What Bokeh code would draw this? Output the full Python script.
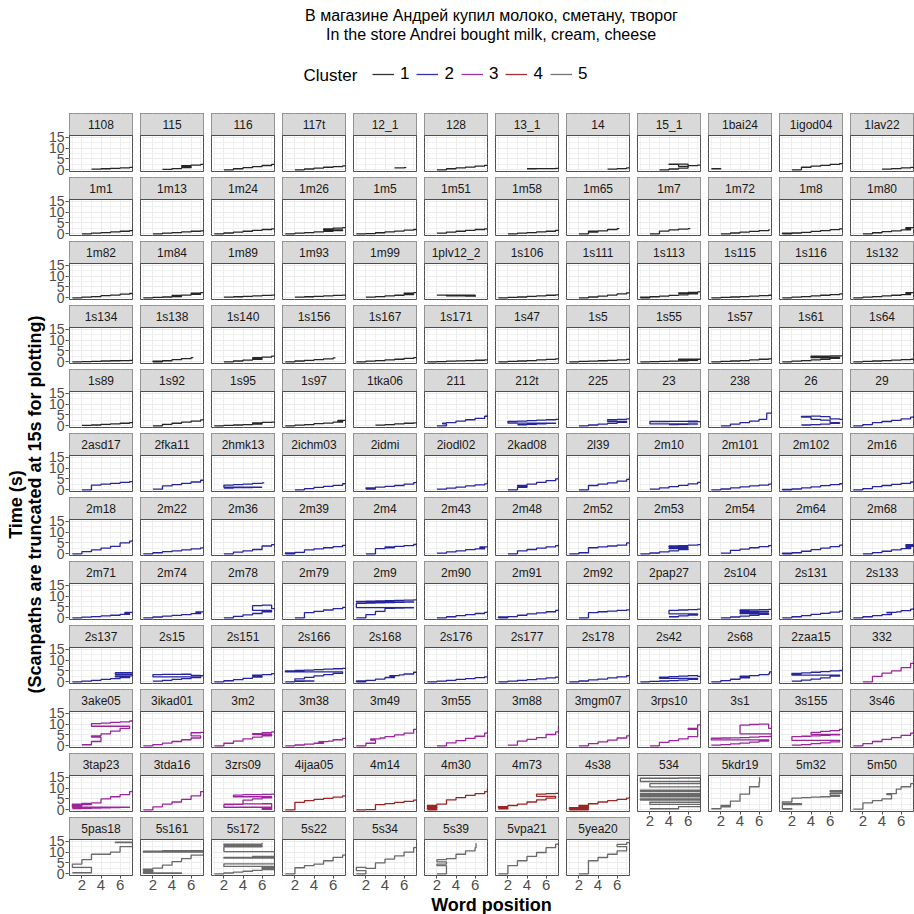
import math
from bokeh.plotting import figure
from bokeh.layouts import column, row
from bokeh.models import Range1d, FixedTicker, Legend, LegendItem
from bokeh.core.properties import value
from bokeh.embed import file_html
from bokeh.resources import INLINE

# ---------------- data ----------------
TITLE_LINES = ["В магазине Андрей купил молоко, сметану, творог",
               "In the store Andrei bought milk, cream, cheese"]
X_LABEL = "Word position"
Y_LABEL_LINES = ["Time (s)", "(Scanpaths are truncated at 15s for plotting)"]
LEGEND_TITLE = "Cluster"
CLUSTER_LABELS = ["1", "2", "3", "4", "5"]
CLUSTER_COLORS = ["#000000", "#00008B", "#8B008B", "#8B0000", "#505050"]
X_TICKS = [2, 4, 6]
X_MINOR = [1, 3, 5, 7]
Y_TICKS = [0, 5, 10, 15]
Y_MINOR = [2.5, 7.5, 12.5]

PANELS = [
    "1108", "115", "116", "117t", "12_1", "128", "13_1", "14", "15_1", "1bai24", "1igod04", "1lav22",
    "1m1", "1m13", "1m24", "1m26", "1m5", "1m51", "1m58", "1m65", "1m7", "1m72", "1m8", "1m80",
    "1m82", "1m84", "1m89", "1m93", "1m99", "1plv12_2", "1s106", "1s111", "1s113", "1s115", "1s116", "1s132",
    "1s134", "1s138", "1s140", "1s156", "1s167", "1s171", "1s47", "1s5", "1s55", "1s57", "1s61", "1s64",
    "1s89", "1s92", "1s95", "1s97", "1tka06", "211", "212t", "225", "23", "238", "26", "29",
    "2asd17", "2fka11", "2hmk13", "2ichm03", "2idmi", "2iodl02", "2kad08", "2l39", "2m10", "2m101", "2m102", "2m16",
    "2m18", "2m22", "2m36", "2m39", "2m4", "2m43", "2m48", "2m52", "2m53", "2m54", "2m64", "2m68",
    "2m71", "2m74", "2m78", "2m79", "2m9", "2m90", "2m91", "2m92", "2pap27", "2s104", "2s131", "2s133",
    "2s137", "2s15", "2s151", "2s166", "2s168", "2s176", "2s177", "2s178", "2s42", "2s68", "2zaa15", "332",
    "3ake05", "3ikad01", "3m2", "3m38", "3m49", "3m55", "3m88", "3mgm07", "3rps10", "3s1", "3s155", "3s46",
    "3tap23", "3tda16", "3zrs09", "4ijaa05", "4m14", "4m30", "4m73", "4s38", "534", "5kdr19", "5m32", "5m50",
    "5pas18", "5s161", "5s172", "5s22", "5s34", "5s39", "5vpa21", "5yea20",
]

CLUSTER = ([1] * 53) + ([2] * 54) + ([3] * 16) + ([4] * 5) + ([5] * 12)

WORDS = [
    # row 1
    [3, 4, 5, 6, 7, 7.3], [3, 4, 5, 6, 5, 6, 7, 7.3], [2, 3, 4, 5, 6, 7, 7.3], [2, 3, 4, 5, 6, 7, 7.3],
    [5, 6, 6.2], [2, 3, 4, 5, 6, 7, 7.3], [4, 5, 6, 7, 7.3], [5, 6, 7, 7.3],
    [3, 4, 5, 6, 4, 5, 6, 7, 7.3], [1, 2], [2, 3, 4, 5, 6, 7, 7.3], [4, 5, 6, 7, 7.3],
    # row 2
    [2, 3, 4, 5, 6, 7, 7.3], [2, 3, 4, 5, 6, 7, 7.3], [1, 2, 3, 4, 5, 6, 7, 7.3], [1, 2, 3, 4, 5, 6, 7, 5, 6, 7, 7.3],
    [1, 2, 3, 4, 5, 6, 7, 7.3], [2, 3, 4, 5, 6, 7, 7.3], [2, 3, 4, 5, 6, 7, 7.3], [2, 3, 4, 3, 4, 5, 6, 6.2],
    [2, 3, 4, 5, 6, 6.2], [2, 3, 4, 5, 6, 7, 7.1], [1, 2, 1, 2, 3, 4, 5, 6, 7, 7.3], [2, 3, 4, 5, 6, 7, 6.5, 7.3],
    # row 3
    [1, 2, 3, 4, 5, 6, 7, 7.3], [1, 2, 3, 4, 5, 4, 5, 6, 7, 6, 7, 7.3], [2, 3, 4, 5, 6, 7, 7.3], [2, 3, 4, 5, 6, 7, 7.3],
    [2, 3, 4, 5, 6, 7, 6, 7, 7.3], [2, 3, 4, 5, 6, 3, 4, 5, 6, 6.1], [1, 2, 3, 4, 5, 6, 7, 7.3], [2, 3, 4, 5, 6, 7, 7.3],
    [1, 2, 1, 2, 3, 4, 5, 6, 7, 5, 6, 7, 7.3], [1, 2, 3, 4, 5, 6, 7, 7.3], [1, 2, 3, 4, 5, 6, 7, 7.3], [1, 2, 3, 4, 5, 6, 7, 6.5, 7.3],
    # row 4
    [1, 2, 3, 4, 5, 6, 7, 7.3], [2, 3, 2, 3, 4, 5, 6, 6.2], [2, 3, 4, 5, 6, 5, 6, 7, 7.3], [1, 2, 3, 4, 5, 6, 6.2],
    [1, 2, 3, 4, 5, 6, 7, 7.3], [1, 2, 3, 4, 5, 6, 7, 7.3], [1, 2, 3, 4, 5, 6, 7, 7.3], [1, 2, 3, 4, 5, 6, 7, 7.3],
    [1, 2, 3, 4, 5, 6, 7, 5, 6, 7, 5, 7.3], [1, 2, 3, 4, 5, 6, 7, 7.3], [1, 2, 3, 4, 5, 6, 7, 4, 5, 6, 7, 7.3], [1, 2, 3, 4, 5, 6, 7, 7.3],
    # row 5
    [2, 3, 4, 5, 6, 7, 7.3], [2, 3, 4, 5, 6, 7, 7.3], [1, 2, 3, 4, 5, 6, 5, 6, 7, 7.3], [1, 2, 3, 4, 5, 6, 7, 6.5, 7.3],
    [3, 4, 5, 6, 7, 7.3], [2, 3, 2.6, 3, 4, 5, 6, 7, 7.3], [3, 4, 5, 6, 7, 2, 3, 4, 5, 6, 7, 7.3], [2, 3, 4, 5, 6, 7, 5, 6, 7, 7.3],
    [4, 5, 6, 7, 2, 3, 4, 5, 6, 7, 6, 7.3], [2, 3, 4, 5, 6, 6.8, 7.3], [3, 4, 5, 6, 7, 6, 5, 4, 3, 4, 5, 6, 7, 7.3], [1, 2, 3, 4, 5, 6, 7, 7.3],
    # row 6
    [2, 3, 4, 5, 6, 7, 7.3], [2, 3, 4, 5, 6, 7, 7.3], [2, 3, 4, 5, 6, 2, 3, 4, 5, 6, 6.2], [2, 3, 4, 5, 6, 7, 7.3],
    [2, 3, 2, 3, 4, 5, 6, 7, 7.3], [2, 3, 4, 5, 6, 7, 7.3], [2, 3, 4, 3, 4, 5, 6, 7, 7.3], [2, 3, 4, 5, 6, 7, 7.3],
    [2, 3, 4, 5, 6, 7, 7.3], [1, 2, 3, 4, 5, 6, 7, 7.3], [1, 2, 1, 2, 3, 4, 5, 6, 7, 7.3], [1, 2, 3, 4, 5, 6, 7, 7.3],
    # row 7
    [1, 2, 3, 4, 5, 6, 7, 7.3], [1, 2, 3, 4, 5, 6, 7, 7.3], [2, 3, 4, 5, 6, 7, 7.3], [1, 2, 1, 2, 3, 4, 5, 6, 7, 7.3],
    [2, 3, 4, 5, 4, 5, 6, 7, 7.3], [2, 3, 4, 5, 6, 7, 6.5, 7.3], [2, 3, 4, 5, 6, 7, 7.3], [1, 2, 3, 4, 5, 6, 7, 7.3],
    [1, 2, 3, 4, 5, 6, 4, 5, 6, 4, 5, 6, 7, 7.3], [2, 3, 4, 5, 6, 7, 7.3], [1, 2, 1, 2, 3, 4, 5, 6, 7, 7.3], [2, 3, 4, 5, 6, 7, 6.5, 7.3, 6.5, 7.3],
    # row 8
    [1, 2, 3, 4, 5, 6, 7, 6.5, 7.3], [1, 2, 3, 4, 5, 6, 7, 6.5, 7.3], [2, 3, 4, 5, 6, 7, 5, 6, 7, 7.3], [2, 3, 4, 5, 6, 7, 7.3],
    [1, 2, 3, 4, 5, 6, 7, 1, 2, 3, 4, 5, 6, 7, 1, 2, 3, 4, 5, 6, 7, 7.3], [2, 3, 4, 5, 6, 7, 7.3], [1, 2, 1, 2, 3, 4, 5, 6, 7, 7.3], [2, 3, 4, 5, 6, 7, 7.3],
    [4, 5, 6, 7, 4, 5, 6, 7, 7.3], [2, 3, 4, 5, 6, 7, 4, 5, 6, 7, 4, 5, 6, 7, 7.3], [1, 2, 3, 4, 5, 6, 7, 7.3], [1, 2, 3, 4, 5, 4.5, 5.5, 6, 7, 7.3],
    # row 9
    [1, 2, 3, 4, 5, 6, 7, 5.5, 7.3, 5.5, 7.3], [2, 3, 4, 5, 6, 7, 2, 3, 4, 5, 6, 7, 7.3], [1, 2, 3, 4, 5, 6, 5, 6, 7, 7.3],
    [1, 2, 3, 4, 2, 3, 4, 5, 6, 7, 1, 2, 3, 4, 5, 6, 7, 7.3], [1, 2, 1, 2, 3, 4, 5, 4.5, 5.5, 6, 7, 7.3],
    [1, 2, 3, 4, 5, 6, 7, 7.3], [1, 2, 3, 4, 5, 6, 7, 7.3], [1, 2, 3, 4, 5, 6, 7, 7.3],
    [1, 2, 3, 4, 5, 6, 7, 3, 4, 5, 6, 7, 7.3], [1, 2, 3, 4, 5, 4, 5, 6, 7, 7.1, 7.3],
    [2, 3, 4, 5, 6, 7, 2, 3, 2, 3, 4, 5, 6, 7, 7.3], [2, 3, 4, 5, 6, 7, 7.3],
    # row 10
    [2, 3, 4, 3, 4, 5, 6, 7, 3, 4, 5, 6, 7, 7.3], [1, 2, 3, 4, 5, 6, 7, 6, 7, 7.3], [1, 2, 3, 4, 5, 6, 7, 5, 6, 7, 7.3],
    [1, 2, 3, 4, 5, 4.5, 5.5, 6, 7, 7.3], [1, 2, 3, 2.5, 3.5, 4, 5, 6, 7, 7.3], [2, 3, 4, 5, 6, 7, 7.3],
    [2, 3, 4, 5, 6, 7, 7.3], [2, 3, 4, 5, 6, 7, 7.3], [2, 3, 4, 5, 6, 7, 6, 7, 7.3],
    [1, 2, 3, 4, 5, 6, 7, 1, 2, 3, 4, 5, 6, 7, 7.3, 4, 5, 6, 7, 7.3],
    [2, 3, 4, 5, 6, 7, 2, 3, 4, 5, 6, 7, 4, 5, 6, 7, 7.3], [1, 2, 3, 4, 5, 6, 7, 7.3],
    # row 11
    [1, 2, 3, 4, 5, 6, 7, 1, 2, 3, 1, 2, 3, 4, 5, 6, 7, 7.3], [1, 2, 3, 4, 5, 6, 7, 7.3],
    [2, 3, 4, 5, 6, 7, 6, 7, 2, 3, 4, 5, 6, 7, 3, 4, 5, 6, 7, 7.3], [1, 2, 3, 4, 5, 6, 7, 7.3],
    [1, 2, 3, 4, 5, 6, 7, 7.3], [1, 2, 1, 2, 1, 2, 3, 4, 5, 6, 7, 7.3], [1, 2, 1, 2, 3, 4, 5, 6, 7, 5, 6, 7, 7.3],
    [1, 3, 1, 3, 2, 3, 4, 5, 6, 7, 7.3],
    [2, 5, 7.3, 2, 7.3, 1, 7.3, 1, 7.3, 1, 7.3, 1, 7.3, 2, 7.3, 1, 5, 7.3],
    [1, 2, 3, 2, 3, 4, 5, 6, 6.05], [1, 2, 1, 3, 1, 2, 3, 4, 5, 6, 7, 6, 7.3, 6, 7.3], [1, 2, 3, 4, 5, 4.5, 5.5, 6, 7, 7.3],
    # row 12
    [1, 3, 1, 2, 3, 5, 6, 7.3, 5.5, 7.3], [1, 5, 1, 2, 1, 2, 3, 4, 5, 6, 7.3, 1, 3, 7.3],
    [1, 2, 3, 4, 5, 6, 7.3, 6, 7.3, 2, 7.3, 2, 7.3, 5, 7.3, 2, 6, 2, 6], [1, 2, 3, 4, 5, 6, 7, 7.3],
    [1, 2, 1, 2, 3, 4, 5, 6, 7, 7.3], [2, 3, 2, 3, 2, 3, 4, 5, 6, 6.1], [1, 2, 3, 4, 5, 6, 7, 7.3], [2, 3, 4, 5, 6, 7, 6, 7, 7.3],
]

TIMES = [
    # row 1
    [0.3, 0.5, 0.7, 0.9, 1.1, 1.2], [0.2, 0.6, 1.0, 1.6, 1.9, 2.2, 2.5, 2.7], [0, 0.5, 1.0, 1.5, 2.0, 2.5, 2.7], [0, 0.4, 0.8, 1.2, 1.5, 1.8, 1.9],
    [0.9, 1.0, 1.1], [0, 0.5, 0.9, 1.3, 1.7, 2.1, 2.3], [0.5, 0.55, 0.6, 0.65, 0.7], [0.3, 0.6, 0.9, 1.0],
    [0, 0.4, 0.8, 2.6, 2.5, 1.6, 1.9, 2.2, 2.4], [0.5, 0.6], [0, 1.2, 1.7, 2.1, 2.5, 2.9, 3.0], [0.3, 0.6, 0.9, 1.1, 1.2],
    # row 2
    [0, 0.3, 0.6, 0.9, 1.2, 1.5, 1.6], [0, 0.3, 0.6, 0.9, 1.2, 1.4, 1.6], [0, 0.4, 0.8, 1.2, 1.6, 2.0, 2.3, 2.5], [0, 0.3, 0.6, 0.9, 1.2, 1.5, 1.8, 2.3, 2.6, 2.9, 3.0],
    [0, 0.1, 0.5, 0.9, 1.3, 1.7, 2.0, 2.2], [0.3, 0.8, 1.2, 1.6, 2.0, 2.3, 2.5], [0, 0.3, 0.6, 0.9, 1.2, 1.6, 1.8], [0, 0.8, 1.0, 1.2, 1.4, 2.0, 2.4, 2.5],
    [0, 1.3, 1.8, 2.2, 2.4, 2.5], [0, 0.4, 0.8, 1.1, 1.5, 1.8, 2.0], [0, 0.2, 0.3, 0.4, 0.7, 1.1, 1.5, 1.9, 2.3, 2.5], [0, 0.5, 1.0, 1.4, 1.8, 2.4, 2.9, 3.1],
    # row 3
    [0, 0.3, 0.6, 1.0, 1.3, 1.7, 2.0, 2.2], [0, 0.2, 0.4, 0.6, 1.0, 1.1, 1.3, 1.6, 2.0, 2.2, 2.4, 2.5], [0.3, 0.5, 0.7, 0.9, 1.1, 1.3, 1.4], [0.3, 0.5, 0.7, 0.9, 1.1, 1.3, 1.4],
    [0.3, 0.6, 0.9, 1.2, 1.5, 1.9, 2.2, 2.4, 2.5], [1.3, 1.3, 1.2, 1.2, 1.1, 0.9, 0.9, 0.8, 0.8, 0.8], [0, 0.2, 0.4, 0.7, 0.9, 1.2, 1.4, 1.5], [0, 0.4, 0.8, 1.3, 1.8, 2.3, 2.6],
    [0, 0.2, 0.3, 0.5, 0.8, 1.1, 1.4, 1.8, 2.1, 2.3, 2.5, 2.7, 2.8], [0, 0.2, 0.4, 0.6, 0.8, 1.0, 1.2, 1.3], [0, 0.3, 0.6, 0.9, 1.2, 1.5, 1.8, 2.0], [0, 0.3, 0.6, 0.9, 1.2, 1.5, 2.0, 2.4, 2.6],
    # row 4
    [0, 0.1, 0.2, 0.4, 0.5, 0.6, 0.7, 0.8], [0, 0.2, 0.3, 0.5, 1.0, 1.5, 1.9, 2.0], [0, 0.4, 0.8, 1.2, 1.6, 1.9, 2.2, 2.6, 2.8], [0, 0.4, 0.7, 1.0, 1.4, 1.8, 2.0],
    [0, 0.3, 0.6, 0.9, 1.2, 1.6, 1.9, 2.0], [0, 0.15, 0.3, 0.45, 0.6, 0.75, 0.9, 1.0], [0, 0.2, 0.4, 0.6, 0.9, 1.1, 1.4, 1.5], [0, 0.2, 0.35, 0.5, 0.7, 0.9, 1.1, 1.2],
    [0, 0.1, 0.2, 0.3, 0.5, 0.7, 0.8, 0.9, 1.0, 1.1, 1.2, 1.3], [0, 0.2, 0.4, 0.6, 0.9, 1.2, 1.4, 1.6], [0, 0.3, 0.6, 0.9, 1.2, 1.6, 2.0, 2.6, 2.6, 2.7, 2.7, 2.8], [0, 0.2, 0.4, 0.6, 0.8, 1.0, 1.2, 1.3],
    # row 5
    [0.2, 0.4, 0.7, 0.9, 1.2, 1.5, 1.6], [0, 0.7, 1.2, 1.7, 2.2, 2.7, 3.0], [0, 0.2, 0.4, 0.6, 0.8, 1.2, 1.4, 1.6, 1.7, 1.8], [0, 0.3, 0.6, 1.0, 1.3, 1.7, 2.1, 2.5, 2.7],
    [0.3, 0.6, 0.9, 1.2, 1.4, 1.5], [0, 0.9, 1.2, 1.5, 2.2, 2.8, 3.4, 4.4, 5.6], [0.5, 0.7, 0.9, 1.1, 1.3, 2.0, 2.2, 2.4, 2.6, 2.8, 3.0, 3.2], [0, 0.4, 0.8, 1.2, 1.6, 2.1, 2.8, 3.0, 3.2, 3.4],
    [0.6, 0.7, 0.8, 0.9, 2.0, 2.0, 2.1, 2.1, 2.2, 1.8, 1.9, 2.0], [0, 0.8, 1.5, 2.2, 3.0, 5.8, 6.0], [0.4, 0.6, 0.8, 1.2, 1.5, 2.6, 3.0, 4.0, 4.3, 4.5, 4.2, 3.2, 3.0, 3.1], [0, 0.6, 1.5, 2.0, 2.5, 3.2, 4.0, 4.5],
    # row 6
    [0, 2.2, 2.6, 3.0, 3.4, 3.8, 4.0], [0.3, 1.8, 2.4, 3.0, 3.6, 4.4, 4.7], [0.8, 1.0, 1.0, 1.2, 1.2, 2.2, 2.4, 2.6, 3.0, 3.2, 3.3], [0, 0.6, 1.1, 1.6, 2.1, 2.8, 3.3],
    [0.3, 0.6, 0.9, 1.3, 1.6, 2.0, 2.6, 3.3, 3.8], [0.3, 0.8, 1.3, 1.8, 2.3, 2.7, 4.3], [0, 1.2, 2.0, 1.8, 2.6, 3.4, 4.2, 5.0, 5.7], [0, 2.0, 2.6, 3.2, 4.0, 4.8, 5.8],
    [0.3, 0.9, 1.5, 2.1, 2.7, 3.4, 3.7], [0, 0.4, 0.9, 1.4, 1.8, 2.2, 2.6, 3.0], [0, 0.1, 0.2, 0.4, 0.9, 1.4, 1.9, 2.4, 2.8, 3.2], [0, 0.6, 1.5, 2.0, 2.5, 3.0, 3.6, 4.0],
    # row 7
    [0, 1.0, 1.8, 2.6, 3.4, 5.0, 5.8, 6.3], [0, 0.5, 1.0, 1.4, 1.8, 2.3, 2.7, 3.0], [0, 0.8, 1.4, 2.0, 3.6, 4.2, 4.5], [0, 0.2, 0.4, 0.7, 1.8, 2.3, 2.8, 3.3, 3.9, 4.3],
    [0, 2.4, 2.8, 3.0, 3.2, 3.4, 3.8, 4.3, 4.9], [0.3, 0.9, 1.4, 1.9, 2.3, 2.8, 3.2, 3.5], [0, 1.4, 2.0, 2.6, 3.2, 3.8, 4.3], [0, 0.5, 2.8, 3.2, 3.6, 4.0, 5.0, 5.4],
    [0, 0.4, 0.9, 1.4, 1.9, 2.4, 2.6, 2.9, 3.2, 3.6, 3.8, 4.0, 4.2, 4.3], [0.3, 1.6, 2.2, 2.8, 3.3, 3.8, 4.1], [0, 0.2, 0.3, 0.5, 1.2, 1.9, 2.6, 3.3, 4.0, 4.5], [0, 0.6, 1.2, 1.8, 2.4, 3.0, 3.4, 3.8, 4.2, 4.6],
    # row 8
    [0, 0.3, 0.6, 0.9, 1.2, 1.6, 2.0, 2.5, 2.8], [0, 0.4, 0.8, 1.1, 1.5, 1.9, 2.3, 2.7, 2.9], [0, 0.7, 1.4, 2.0, 2.8, 3.4, 5.6, 5.8, 4.2, 4.4], [0, 2.4, 3.0, 3.6, 4.2, 4.8, 5.2],
    [0, 1.5, 3.0, 4.4, 4.5, 4.6, 4.7, 6.6, 6.8, 6.9, 7.0, 7.1, 7.2, 7.3, 7.6, 7.7, 7.8, 7.9, 8.0, 8.1, 8.2, 8.3],
    [0, 0.5, 1.0, 1.5, 2.0, 2.5, 3.0], [0, 0.2, 0.4, 0.6, 1.2, 1.8, 2.3, 2.8, 3.4, 3.8], [0, 2.4, 2.8, 3.1, 3.4, 3.7, 4.0],
    [0.5, 0.9, 1.3, 1.8, 3.4, 3.6, 3.8, 4.0, 4.1], [0, 0.4, 0.8, 1.2, 1.6, 2.0, 2.4, 2.6, 2.8, 3.0, 3.6, 3.7, 3.8, 3.9, 4.0],
    [0, 0.5, 1.0, 1.6, 2.1, 2.6, 3.1, 3.5], [0, 0.5, 1.0, 1.5, 2.3, 2.5, 2.7, 3.3, 4.0, 4.5],
    # row 9
    [0, 0.3, 0.7, 1.1, 1.5, 1.9, 2.3, 2.7, 3.5, 4.2, 4.5], [0.3, 0.7, 1.1, 1.5, 1.9, 2.3, 3.3, 3.4, 3.4, 3.5, 3.0, 2.8, 2.9], [0, 0.5, 1.0, 1.6, 2.2, 2.8, 3.1, 3.3, 3.8, 4.0],
    [0, 0.2, 0.3, 0.4, 1.4, 2.1, 2.7, 3.3, 3.9, 4.6, 5.0, 5.2, 5.4, 5.6, 5.8, 6.0, 6.2, 6.3], [0, 0.2, 0.4, 0.7, 1.3, 2.0, 2.6, 2.9, 3.2, 3.6, 4.4, 4.8],
    [0, 0.3, 0.7, 1.1, 1.5, 1.9, 2.3, 2.5], [0, 0.3, 0.7, 1.0, 1.4, 1.8, 2.2, 2.5], [0, 0.4, 0.9, 1.3, 1.8, 2.3, 2.8, 3.2],
    [0, 0.2, 0.4, 0.6, 0.8, 1.2, 1.6, 2.2, 2.4, 2.6, 2.9, 2.5, 2.6], [0, 0.6, 1.2, 1.8, 2.4, 2.6, 2.9, 3.3, 3.7, 4.6, 4.7],
    [0.3, 0.8, 1.3, 1.8, 2.6, 3.1, 3.7, 3.8, 3.9, 4.1, 4.4, 4.7, 5.0, 5.2, 5.4], [0, 2.5, 4.0, 5.0, 6.5, 8.5, 9.5],
    # row 10
    [0.5, 2.0, 4.0, 4.6, 5.5, 6.8, 8.0, 9.0, 10.2, 10.4, 10.8, 11.0, 11.4, 11.8], [0, 0.6, 1.3, 2.0, 2.8, 3.6, 4.6, 6.0, 6.2, 6.3],
    [0, 1.2, 2.2, 3.2, 4.0, 4.6, 5.2, 5.6, 6.0, 6.4, 6.6],
    [0, 0.4, 0.8, 1.2, 1.6, 1.9, 2.2, 2.8, 3.4, 3.7], [0, 1.2, 2.6, 3.2, 3.6, 4.2, 5.0, 5.8, 7.6, 8.0], [0, 1.4, 2.4, 3.4, 4.4, 5.8, 6.5],
    [0.3, 2.2, 3.0, 3.8, 5.2, 6.4, 9.0], [0, 1.0, 1.8, 2.6, 3.6, 4.6, 5.8], [0, 1.6, 2.4, 3.2, 4.2, 7.6, 8.0, 9.6, 10.0],
    [0.3, 0.6, 0.9, 1.3, 1.7, 2.2, 2.7, 3.5, 3.6, 3.7, 3.8, 4.0, 4.2, 4.3, 5.5, 9.5, 9.8, 10.0, 8.0, 8.2],
    [0.3, 0.6, 1.0, 1.4, 1.8, 2.5, 4.2, 4.4, 4.6, 4.8, 5.0, 5.3, 6.2, 6.6, 7.0, 7.6, 8.0], [0, 1.0, 2.0, 3.0, 3.8, 4.8, 5.8, 6.5],
    # row 11
    [0.6, 0.7, 0.8, 0.9, 1.0, 1.1, 1.2, 2.0, 2.4, 2.6, 1.8, 3.0, 3.2, 5.0, 6.0, 7.0, 8.4, 9.5], [0, 1.4, 2.6, 3.6, 4.8, 6.4, 8.4, 8.6],
    [2.6, 2.6, 2.7, 2.7, 2.8, 0.2, 0.6, 1.2, 2.4, 2.5, 4.5, 5.0, 5.5, 6.0, 6.8, 7.0, 7.0, 7.1, 7.2, 7.3], [0, 3.4, 4.2, 4.8, 5.3, 5.8, 6.4, 6.7],
    [0, 0.1, 2.4, 2.9, 3.4, 3.9, 4.5, 5.0], [0, 0.5, 1.0, 1.5, 2.0, 2.6, 4.6, 5.6, 6.6, 7.4, 8.4, 10.0], [0.5, 1.0, 1.5, 2.0, 2.6, 3.6, 4.6, 5.4, 6.2, 7.2, 7.4, 7.6, 7.8],
    [0, 0.5, 1.0, 1.5, 2.0, 2.8, 3.6, 4.2, 4.8, 5.4, 5.8],
    [0.5, 1.5, 2.5, 3.5, 4.5, 5.0, 6.0, 6.5, 7.0, 7.5, 8.5, 9.0, 10.5, 12.0, 13.0, 14.5, 14.6, 14.8],
    [0.5, 1.4, 1.8, 2.0, 4.0, 7.2, 10.6, 12.6, 15.0], [0.3, 0.5, 2.4, 2.8, 3.6, 5.4, 5.6, 5.8, 6.0, 6.2, 6.8, 7.6, 8.2, 8.8, 9.0], [0.3, 3.2, 4.2, 5.0, 7.0, 7.4, 9.5, 10.6, 12.0, 12.5],
    # row 12
    [0.5, 3.0, 4.5, 6.5, 9.0, 10.0, 12.5, 14.3, 14.5, 14.2], [0.2, 0.4, 1.0, 1.6, 2.2, 2.6, 4.0, 5.6, 7.0, 8.6, 10.0, 10.4, 10.6, 10.7],
    [0, 0.4, 0.8, 1.2, 1.6, 2.0, 2.4, 3.0, 3.4, 4.6, 7.2, 7.6, 7.8, 8.0, 10.2, 12.4, 13.0, 13.6, 14.2], [0, 2.8, 3.8, 4.5, 6.0, 7.6, 8.6, 9.0],
    [0, 1.5, 3.0, 2.5, 5.0, 6.8, 8.2, 10.0, 12.0, 12.6], [0, 3.8, 4.5, 5.5, 6.5, 7.0, 9.0, 10.5, 12.0, 14.0],
    [0, 3.8, 6.0, 8.0, 9.8, 12.0, 13.6, 14.2], [0, 6.0, 7.5, 9.0, 10.5, 12.5, 13.5, 14.3, 14.6],
]

# ---------------- layout / style ----------------
FONT = "Liberation Sans"
PAGE = 914
NCOL = 12
FRAME_W, PANEL_H, STRIP_H = 63, 36, 22
GAP_X, GAP_Y = 6, 4
AXIS_W = 22
BOTTOM_AXIS = 20
YLAB_W = 46
HEAD_H = 112
XMIN, XMAX = 0.7, 7.3
YMIN, YMAX = -0.75, 15.75
Y_PER_PX = (YMAX - YMIN) / PANEL_H
YTOP = YMAX + STRIP_H * Y_PER_PX
BORDER = "#4D4D4D"
GRID = "#EBEBEB"
TICK_TEXT = "#4D4D4D"
LINE_ALPHA = 0.85
ROW_PITCH = PANEL_H + STRIP_H + 2 + GAP_Y

n = len(PANELS)
nrows = math.ceil(n / NCOL)


def style_axis(ax, size):
    ax.axis_line_color = None
    ax.major_tick_in = 0
    ax.major_tick_out = 3
    ax.minor_tick_out = 0
    ax.minor_tick_in = 0
    ax.major_tick_line_color = BORDER
    ax.major_label_text_font = FONT
    ax.major_label_text_font_size = size
    ax.major_label_text_color = TICK_TEXT
    ax.major_label_standoff = 1


def make_panel(i):
    bottom = i + NCOL >= n
    p = figure(frame_width=FRAME_W, frame_height=PANEL_H + STRIP_H,
               x_range=Range1d(XMIN, XMAX), y_range=Range1d(YMIN, YTOP),
               x_axis_location="below" if bottom else None,
               y_axis_location=None,
               output_backend="svg", toolbar_location=None,
               min_border_left=1, min_border_right=1, min_border_top=1,
               min_border_bottom=BOTTOM_AXIS if bottom else 1)
    p.outline_line_color = BORDER
    p.outline_line_width = 1
    p.background_fill_color = "white"
    for g, tk, mn in ((p.xgrid, X_TICKS, X_MINOR), (p.ygrid, Y_TICKS, Y_MINOR)):
        g.ticker = FixedTicker(ticks=tk, minor_ticks=mn)
        g.grid_line_color = GRID
        g.grid_line_width = 1
        g.minor_grid_line_color = GRID
        g.minor_grid_line_width = 0.7
    if bottom:
        p.xaxis[0].ticker = FixedTicker(ticks=X_TICKS, minor_ticks=[])
        style_axis(p.xaxis[0], "15px")

    col = CLUSTER_COLORS[CLUSTER[i] - 1]
    p.step(x=WORDS[i], y=TIMES[i], mode="after", line_color=col,
           line_width=1.3, line_alpha=LINE_ALPHA)
    # facet strip
    p.quad(left=[XMIN - 1], right=[XMAX + 1], bottom=[YMAX], top=[YTOP + 1],
           fill_color="#D9D9D9", line_color=BORDER, line_width=1)
    p.text(x=[(XMIN + XMAX) / 2], y=[(YMAX + YTOP) / 2], text=[PANELS[i]],
           text_font=value(FONT), text_font_size="12px", text_color="#1A1A1A",
           text_align="center", text_baseline="middle")
    return p


panels = [make_panel(i) for i in range(n)]
cols = []
for c in range(NCOL):
    members = [panels[i] for i in range(c, n, NCOL)]
    cols.append(column(*members, spacing=GAP_Y))
grid = row(*cols, spacing=GAP_X)

grid_h = nrows * (PANEL_H + STRIP_H + 2) + (nrows - 1) * GAP_Y + (BOTTOM_AXIS - 1)
plot_cx = YLAB_W + AXIS_W + 1 + (NCOL * FRAME_W + (NCOL - 1) * (GAP_X + 2)) / 2

# shared y axis for the panel rows (same 0/5/10/15 scale in every row)
tick_pos = []
tick_lab = {}
for r in range(nrows):
    panel_top = 1 + r * ROW_PITCH + STRIP_H
    for v in Y_TICKS:
        pos = round(panel_top + (YMAX - v) / Y_PER_PX, 2)
        tick_pos.append(pos)
        tick_lab[pos] = str(v)

axfig = figure(width=AXIS_W, height=grid_h, x_range=Range1d(0, 1), y_range=Range1d(grid_h, 0),
               x_axis_location=None, y_axis_location="left", output_backend="svg",
               toolbar_location=None, min_border_left=AXIS_W - 1, min_border_right=0,
               min_border_top=0, min_border_bottom=0)
axfig.outline_line_color = None
axfig.grid.visible = False
axfig.yaxis.ticker = FixedTicker(ticks=tick_pos, minor_ticks=[])
axfig.yaxis.major_label_overrides = tick_lab
style_axis(axfig.yaxis[0], "14px")
axfig.yaxis.major_tick_in = 1

# header: title + legend
head = figure(width=PAGE, height=HEAD_H, x_range=Range1d(0, PAGE), y_range=Range1d(HEAD_H, 0),
              x_axis_location=None, y_axis_location=None, output_backend="svg",
              toolbar_location=None, min_border=0)
head.outline_line_color = None
head.grid.visible = False
head.text(x=[plot_cx, plot_cx], y=[15, 34], text=TITLE_LINES, text_font=value(FONT),
          text_font_size="16px", text_color="black", text_align="center",
          text_baseline="middle")
head.text(x=[303], y=[75], text=[LEGEND_TITLE], text_font=value(FONT),
          text_font_size="17px", text_color="black", text_align="left",
          text_baseline="middle")
items = []
nan = float("nan")
for lab, colr in zip(CLUSTER_LABELS, CLUSTER_COLORS):
    rr = head.line(x=[nan], y=[nan], line_color=colr, line_width=1.3, line_alpha=0.8)
    items.append(LegendItem(label=lab, renderers=[rr]))
leg = Legend(items=items, orientation="horizontal", location=(372, HEAD_H - 75 - 9),
             glyph_width=22, glyph_height=18, label_standoff=6, label_width=9, spacing=7,
             padding=0, margin=0, border_line_color=None, background_fill_alpha=0,
             label_text_font=FONT, label_text_font_size="17px", label_text_color="black")
head.add_layout(leg)

# y axis title
ylab = figure(width=YLAB_W, height=grid_h, x_range=Range1d(0, YLAB_W), y_range=Range1d(grid_h, 0),
              x_axis_location=None, y_axis_location=None, output_backend="svg",
              toolbar_location=None, min_border=0)
ylab.outline_line_color = None
ylab.grid.visible = False
ycenter = 504 - HEAD_H
ylab.text(x=[15, 34], y=[ycenter, ycenter], text=Y_LABEL_LINES, angle=math.pi / 2,
          text_font=value(FONT), text_font_size="18px", text_font_style="bold",
          text_color="black", text_align="center", text_baseline="middle")

# x axis title
foot_h = PAGE - HEAD_H - grid_h
foot = figure(width=PAGE, height=foot_h, x_range=Range1d(0, PAGE), y_range=Range1d(foot_h, 0),
              x_axis_location=None, y_axis_location=None, output_backend="svg",
              toolbar_location=None, min_border=0)
foot.outline_line_color = None
foot.grid.visible = False
foot.text(x=[plot_cx], y=[foot_h / 2], text=[X_LABEL], text_font=value(FONT),
          text_font_size="18px", text_font_style="bold", text_color="black",
          text_align="center", text_baseline="middle")

layout = column(head, row(ylab, axfig, grid), foot)
open("out.html", "w").write(file_html(layout, INLINE))
